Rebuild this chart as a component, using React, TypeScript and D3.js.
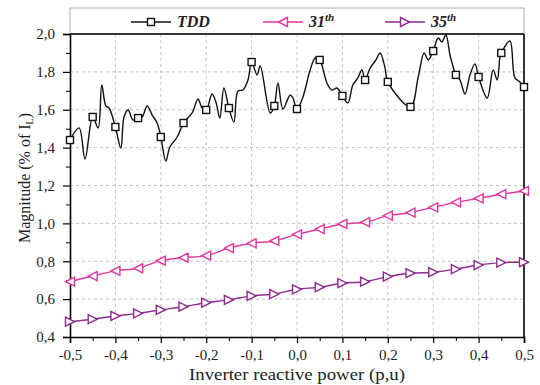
import React, { useEffect, useRef } from 'react';
import * as d3 from 'd3';

// x positions of the markers (p.u.)
const powerSteps = [-0.5, -0.45, -0.4, -0.35, -0.3, -0.25, -0.2, -0.15, -0.1, -0.05, 0.0,
    0.05, 0.1, 0.15, 0.2, 0.25, 0.3, 0.35, 0.4, 0.45, 0.5];

// marker values
const tddMarkers = [1.44, 1.562, 1.509, 1.556, 1.456, 1.53, 1.599, 1.609, 1.852, 1.62, 1.604,
    1.863, 1.673, 1.757, 1.747, 1.615, 1.91, 1.784, 1.773, 1.9, 1.72];
const h31Values = [0.692, 0.722, 0.749, 0.763, 0.803, 0.819, 0.83, 0.869, 0.895, 0.907, 0.942,
    0.97, 0.997, 1.006, 1.041, 1.057, 1.085, 1.111, 1.132, 1.154, 1.171];
const h35Values = [0.481, 0.494, 0.511, 0.525, 0.543, 0.56, 0.581, 0.596, 0.617, 0.627, 0.652,
    0.663, 0.684, 0.692, 0.719, 0.737, 0.742, 0.759, 0.78, 0.793, 0.795];

// the TDD trace wiggles between the markers
const tddTraceX = [-0.5, -0.48, -0.467, -0.45, -0.438, -0.43, -0.421, -0.414, -0.4, -0.388, -0.381,
    -0.372, -0.361, -0.35, -0.341, -0.33, -0.319, -0.308, -0.3, -0.289, -0.28, -0.264, -0.25,
    -0.231, -0.218, -0.209, -0.2, -0.187, -0.178, -0.17, -0.161, -0.15, -0.139, -0.13, -0.119,
    -0.108, -0.1, -0.088, -0.081, -0.059, -0.05, -0.042, -0.031, -0.015, -0.009, 0.0, 0.013,
    0.029, 0.04, 0.05, 0.066, 0.077, 0.088, 0.1, 0.112, 0.123, 0.134, 0.143, 0.15, 0.161, 0.174,
    0.183, 0.194, 0.2, 0.25, 0.267, 0.28, 0.289, 0.3, 0.311, 0.319, 0.328, 0.337, 0.344, 0.35,
    0.359, 0.37, 0.381, 0.392, 0.4, 0.419, 0.432, 0.441, 0.447, 0.45, 0.469, 0.48, 0.491, 0.5];
const tddTraceY = [1.44, 1.504, 1.34, 1.562, 1.504, 1.731, 1.62, 1.609, 1.509, 1.398, 1.562,
    1.599, 1.546, 1.556, 1.562, 1.62, 1.572, 1.53, 1.456, 1.329, 1.403, 1.456, 1.53,
    1.583, 1.657, 1.609, 1.599, 1.683, 1.636, 1.556, 1.715, 1.609, 1.535, 1.699, 1.704,
    1.757, 1.852, 1.784, 1.831, 1.583, 1.62, 1.741, 1.604, 1.678, 1.662, 1.604, 1.667,
    1.81, 1.873, 1.863, 1.741, 1.704, 1.715, 1.673, 1.636, 1.731, 1.768, 1.81, 1.757, 1.82, 1.863,
    1.9, 1.82, 1.747, 1.615, 1.773, 1.9, 1.863, 1.91, 1.979, 1.958, 1.995, 1.889, 1.826, 1.784,
    1.757, 1.683, 1.784, 1.842, 1.773, 1.662, 1.81, 1.757, 1.879, 1.9, 1.963, 1.768, 1.747, 1.72];

const xTicks = [-0.5, -0.4, -0.3, -0.2, -0.1, 0.0, 0.1, 0.2, 0.3, 0.4, 0.5];
const yTicks = [0.4, 0.6, 0.8, 1.0, 1.2, 1.4, 1.6, 1.8, 2.0];
const xMinor = [-0.45, -0.35, -0.25, -0.15, -0.05, 0.05, 0.15, 0.25, 0.35, 0.45];
const yMinor = [0.5, 0.7, 0.9, 1.1, 1.3, 1.5, 1.7, 1.9];

const colorTDD = '#111111';
const color31 = '#e2369c';
const color35 = '#8e2a90';
const font = '"Liberation Serif", "Times New Roman", serif';

const W = 540, H = 385;
const margin = {left: 70, right: 16, top: 34, bottom: 48};

const fmt = (v: number) => v.toFixed(1).replace('.', ',');

function App() {
    const svgRef = useRef<SVGSVGElement>(null);

    useEffect(() => {
        const svg = d3.select(svgRef.current);
        svg.selectAll('*').remove();

        const x = d3.scaleLinear().domain([-0.5, 0.5]).range([margin.left, W - margin.right]);
        const y = d3.scaleLinear().domain([0.4, 2.0]).range([H - margin.bottom, margin.top]);

        svg.append('rect').attr('width', W).attr('height', H).attr('fill', '#fff');

        // grid
        const grid = svg.append('g').attr('stroke', '#c4c4c4').attr('stroke-dasharray', '3 3').attr('stroke-width', 1);
        grid.selectAll('.gx').data(xTicks.slice(1, -1)).join('line')
            .attr('x1', d => x(d)).attr('x2', d => x(d))
            .attr('y1', y(0.4)).attr('y2', y(2.0));
        grid.selectAll('.gy').data(yTicks.slice(1, -1)).join('line')
            .attr('y1', d => y(d)).attr('y2', d => y(d))
            .attr('x1', x(-0.5)).attr('x2', x(0.5));

        // legend box
        svg.append('rect')
            .attr('x', x(-0.5)).attr('y', 8)
            .attr('width', x(0.5) - x(-0.5)).attr('height', y(2.0) - 8)
            .attr('fill', 'none').attr('stroke', '#aaa').attr('stroke-width', 1);

        // axes
        const xAxis = d3.axisBottom(x).tickValues(xTicks).tickSize(6).tickPadding(6).tickFormat(d => fmt(d as number));
        const gx = svg.append('g').attr('transform', `translate(0,${y(0.4)})`).call(xAxis);
        const yAxis = d3.axisLeft(y).tickValues(yTicks).tickSize(7).tickPadding(8).tickFormat(d => fmt(d as number));
        const gy = svg.append('g').attr('transform', `translate(${x(-0.5)},0)`).call(yAxis);
        [gx, gy].forEach(g => {
            g.select('.domain').attr('stroke', '#000').attr('stroke-width', 1.6);
            g.selectAll('.tick line').attr('stroke', '#000').attr('stroke-width', 1.2);
            g.selectAll('.tick text').attr('font-family', font).attr('font-size', 15).attr('fill', '#222');
        });
        svg.append('g').attr('transform', `translate(0,${y(0.4)})`)
            .call(d3.axisBottom(x).tickValues(xMinor).tickSize(4).tickFormat(() => ''))
            .call(g => g.select('.domain').remove())
            .selectAll('line').attr('stroke', '#000').attr('stroke-width', 1);
        svg.append('g').attr('transform', `translate(${x(-0.5)},0)`)
            .call(d3.axisLeft(y).tickValues(yMinor).tickSize(4).tickFormat(() => ''))
            .call(g => g.select('.domain').remove())
            .selectAll('line').attr('stroke', '#000').attr('stroke-width', 1);

        // frame top / right
        svg.append('line').attr('x1', x(-0.5)).attr('x2', x(0.5)).attr('y1', y(2.0)).attr('y2', y(2.0))
            .attr('stroke', '#000').attr('stroke-width', 1.6);
        svg.append('line').attr('x1', x(0.5)).attr('x2', x(0.5)).attr('y1', y(2.0)).attr('y2', y(0.4))
            .attr('stroke', '#000').attr('stroke-width', 1.6);

        // axis labels
        svg.append('text')
            .attr('x', (x(-0.5) + x(0.5)) / 2).attr('y', 380)
            .attr('text-anchor', 'middle').attr('font-family', font).attr('font-size', 17).attr('fill', '#222')
            .attr('textLength', 216).attr('lengthAdjust', 'spacingAndGlyphs')
            .text('Inverter reactive power (p,u)');
        const yl = svg.append('text')
            .attr('transform', `translate(30,178) rotate(-90)`)
            .attr('text-anchor', 'middle').attr('font-family', font).attr('font-size', 16).attr('fill', '#222');
        yl.append('tspan').text('Magnitude (% of I');
        yl.append('tspan').attr('font-size', 10).attr('dy', 3).text('L');
        yl.append('tspan').attr('dy', -3).text(')');

        const line = d3.line<[number, number]>()
            .x(d => x(d[0])).y(d => y(d[1]))
            .curve(d3.curveCatmullRom.alpha(0.5));

        const tri = (dir: number) => (s: number) => `M${-s * dir},0 L${s * dir},${-s} L${s * dir},${s} Z`;

        const plot = svg.append('g');
        const series = [
            {pts: powerSteps.map((p, i) => [p, h35Values[i]] as [number, number]), color: color35, marker: tri(-1)},
            {pts: powerSteps.map((p, i) => [p, h31Values[i]] as [number, number]), color: color31, marker: tri(1)},
        ];
        series.forEach(s => {
            plot.append('path').datum(s.pts).attr('d', line)
                .attr('fill', 'none').attr('stroke', s.color).attr('stroke-width', 1.4);
            plot.selectAll(null).data(s.pts).join('path')
                .attr('transform', d => `translate(${x(d[0])},${y(d[1])})`)
                .attr('d', s.marker(4.5))
                .attr('fill', '#fff').attr('stroke', s.color).attr('stroke-width', 1.4);
        });

        const trace = tddTraceX.map((t, i) => [t, tddTraceY[i]] as [number, number]);
        plot.append('path').datum(trace).attr('d', line)
            .attr('fill', 'none').attr('stroke', colorTDD).attr('stroke-width', 1.4);
        plot.selectAll(null).data(powerSteps.map((p, i) => [p, tddMarkers[i]])).join('rect')
            .attr('x', d => x(d[0]) - 3.5).attr('y', d => y(d[1]) - 3.5)
            .attr('width', 7).attr('height', 7)
            .attr('fill', '#fff').attr('stroke', colorTDD).attr('stroke-width', 1.4);

        // legend
        const legendItems = [
            {x0: 131, label: 'TDD', sup: '', color: colorTDD, kind: 'sq'},
            {x0: 263, label: '31', sup: 'th', color: color31, kind: 'l'},
            {x0: 385, label: '35', sup: 'th', color: color35, kind: 'r'},
        ];
        const lg = svg.append('g');
        legendItems.forEach(it => {
            const cy = 22;
            lg.append('line').attr('x1', it.x0).attr('x2', it.x0 + 40).attr('y1', cy).attr('y2', cy)
                .attr('stroke', it.color).attr('stroke-width', 1.4);
            if (it.kind === 'sq') {
                lg.append('rect').attr('x', it.x0 + 16.5).attr('y', cy - 3.5).attr('width', 7).attr('height', 7)
                    .attr('fill', '#fff').attr('stroke', it.color).attr('stroke-width', 1.4);
            } else {
                lg.append('path').attr('transform', `translate(${it.x0 + 20},${cy})`)
                    .attr('d', tri(it.kind === 'l' ? 1 : -1)(4.5))
                    .attr('fill', '#fff').attr('stroke', it.color).attr('stroke-width', 1.4);
            }
            const t = lg.append('text').attr('x', it.x0 + 46).attr('y', cy + 5)
                .attr('font-family', font).attr('font-size', 16).attr('font-style', 'italic')
                .attr('font-weight', 'bold').attr('fill', '#222');
            t.append('tspan').text(it.label);
            if (it.sup) t.append('tspan').attr('font-size', 11).attr('dy', -6).text(it.sup);
        });
    }, []);

    return (
        <svg ref={svgRef} width={W} height={H}
             style={{position: 'absolute', left: 0, top: 0, display: 'block'}}/>
    );
}

export default App;
